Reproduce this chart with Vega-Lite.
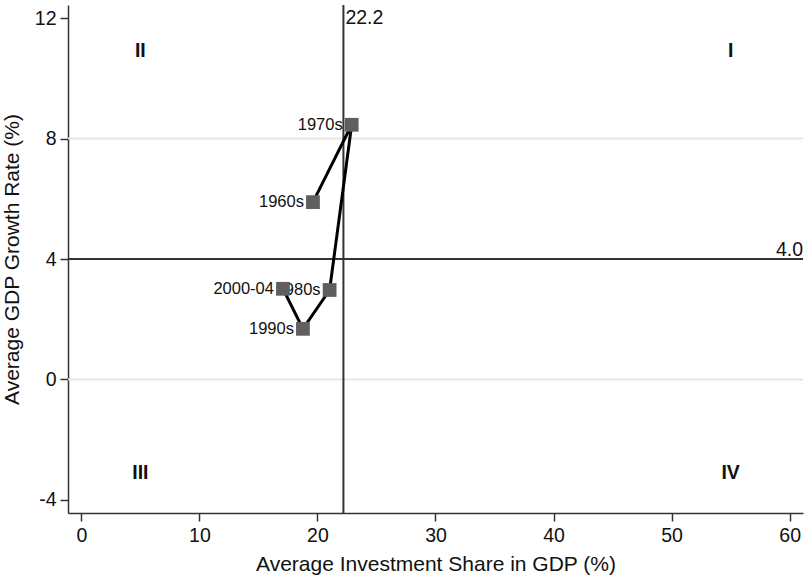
{
  "$schema": "https://vega.github.io/schema/vega-lite/v6.json",
  "width": 735,
  "height": 508,
  "autosize": {"type": "none"},
  "padding": {"left": 68, "top": 5, "right": 5, "bottom": 73},
  "background": "white",
  "config": {
    "font": "Liberation Sans",
    "view": {"stroke": null},
    "axis": {"domainColor": "#333333", "domainWidth": 1.5, "tickColor": "#333333", "tickWidth": 1.5, "tickSize": 8, "labelColor": "#111111", "titleColor": "#111111", "labelFontSize": 19.5, "titleFontSize": 21, "titleFontWeight": "normal", "grid": false}
  },
  "datasets": {
    "pts": [
      {"decade": "1960s", "ord": 1, "inv": 19.62, "gdp": 5.89},
      {"decade": "1970s", "ord": 2, "inv": 22.9, "gdp": 8.46},
      {"decade": "1980s", "ord": 3, "inv": 21.03, "gdp": 2.97},
      {"decade": "1990s", "ord": 4, "inv": 18.77, "gdp": 1.68},
      {"decade": "2000-04", "ord": 5, "inv": 17.08, "gdp": 3.01}
    ],
    "grid": [{"g": 0}, {"g": 8}],
    "quads": [
      {"q": "I", "qx": 55, "qy": 10.9},
      {"q": "II", "qx": 5, "qy": 10.9},
      {"q": "III", "qx": 5, "qy": -3.1},
      {"q": "IV", "qx": 55, "qy": -3.1}
    ],
    "refs": [{"hx": 4.0, "vx": 22.2}]
  },
  "layer": [
    {
      "data": {"name": "grid"},
      "mark": {"type": "rule", "color": "#e6e6e6", "strokeWidth": 2},
      "encoding": {
        "y": {"field": "g", "type": "quantitative", "scale": {"domain": [-4.44, 12.44], "nice": false, "zero": false}, "axis": {"values": [-4, 0, 4, 8, 12], "labelExpr": "'' + datum.value", "title": "Average GDP Growth Rate (%)", "labelPadding": 4, "titlePadding": 12}}
      }
    },
    {
      "data": {"name": "refs"},
      "mark": {"type": "rule", "color": "#333333", "strokeWidth": 2},
      "encoding": {"y": {"field": "hx", "type": "quantitative"}}
    },
    {
      "data": {"name": "refs"},
      "mark": {"type": "rule", "color": "#333333", "strokeWidth": 2},
      "encoding": {"x": {"field": "vx", "type": "quantitative", "scale": {"domain": [-1.13, 61.13], "nice": false, "zero": false}, "axis": {"values": [0, 10, 20, 30, 40, 50, 60], "title": "Average Investment Share in GDP (%)", "labelPadding": 5, "titlePadding": 9}}}
    },
    {
      "data": {"name": "refs"},
      "mark": {"type": "text", "align": "left", "baseline": "middle", "dx": 2, "fontSize": 19.5, "color": "#111111"},
      "encoding": {"x": {"field": "vx", "type": "quantitative"}, "y": {"datum": 12}, "text": {"field": "vx", "type": "quantitative", "format": ".1f"}}
    },
    {
      "data": {"name": "refs"},
      "mark": {"type": "text", "align": "right", "baseline": "alphabetic", "dy": -3, "fontSize": 19.5, "color": "#111111"},
      "encoding": {"x": {"datum": 61.13}, "y": {"field": "hx", "type": "quantitative"}, "text": {"field": "hx", "type": "quantitative", "format": ".1f"}}
    },
    {
      "data": {"name": "pts"},
      "mark": {"type": "line", "color": "#000000", "strokeWidth": 3},
      "encoding": {
        "x": {"field": "inv", "type": "quantitative"},
        "y": {"field": "gdp", "type": "quantitative"},
        "order": {"field": "ord"}
      }
    },
    {
      "data": {"name": "pts"},
      "mark": {"type": "text", "align": "right", "baseline": "middle", "dx": -9, "fontSize": 16.5, "color": "#111111"},
      "encoding": {
        "x": {"field": "inv", "type": "quantitative"},
        "y": {"field": "gdp", "type": "quantitative"},
        "text": {"field": "decade"}
      }
    },
    {
      "data": {"name": "pts"},
      "mark": {"type": "point", "shape": "square", "filled": true, "color": "#5f5f5f", "opacity": 1, "size": 190},
      "encoding": {
        "x": {"field": "inv", "type": "quantitative"},
        "y": {"field": "gdp", "type": "quantitative"}
      }
    },
    {
      "data": {"name": "quads"},
      "mark": {"type": "text", "align": "center", "baseline": "middle", "fontSize": 19.5, "fontWeight": "bold", "color": "#111111"},
      "encoding": {
        "x": {"field": "qx", "type": "quantitative"},
        "y": {"field": "qy", "type": "quantitative"},
        "text": {"field": "q"}
      }
    }
  ]
}
